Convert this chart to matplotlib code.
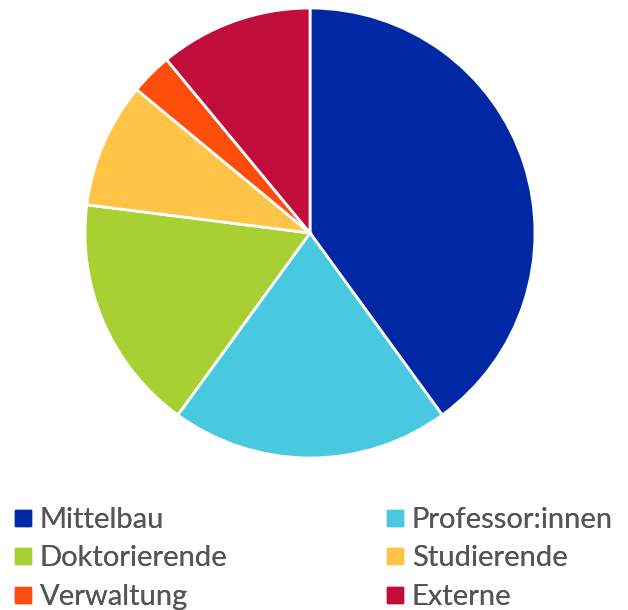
import matplotlib
matplotlib.use("Agg")
import matplotlib.pyplot as plt
from matplotlib.lines import Line2D

categories = ["Mittelbau", "Professor:innen", "Doktorierende", "Studierende", "Verwaltung", "Externe"]
values = [40, 20, 17, 9, 3, 11]
colors = ["#0028A5", "#48C9E0", "#A8D032", "#FFC445", "#FF4E0C", "#C00D3C"]

plt.rcParams['font.family'] = ['Lato', 'DejaVu Sans']

W, H = 628, 610
fig = plt.figure(figsize=(W / 100, H / 100), dpi=100)
ax = fig.add_axes([(310 - 225) / W, (H - 458) / H, 450 / W, 450 / H])
ax.pie(values, colors=colors, startangle=90, counterclock=False,
       wedgeprops=dict(edgecolor="white", linewidth=2.0))
ax.set_xlim(-1, 1)
ax.set_ylim(-1, 1)
ax.set_aspect('equal')
ax.axis('off')

handles = [Line2D([], [], marker='s', linestyle='none', markersize=11,
                  markerfacecolor=c, markeredgecolor=c) for c in colors]

fs = 21
hl = 0.75
common = dict(loc='center left', frameon=False, fontsize=fs, handlelength=hl,
              handletextpad=0.22, labelspacing=0.42, borderaxespad=0, borderpad=0,
              labelcolor="#555555")
cols = [[0, 2, 4], [1, 3, 5]]
px = fs * 100 / 72
xs = [(22.5 - hl * px / 2) / W, (394.5 - hl * px / 2) / W]
for col, x in zip(cols, xs):
    leg = fig.legend([handles[i] for i in col], [categories[i] for i in col],
                     bbox_to_anchor=(x, (H - 558.5) / H), **common)
    fig.add_artist(leg)

fig.savefig("out.png", dpi=100)
